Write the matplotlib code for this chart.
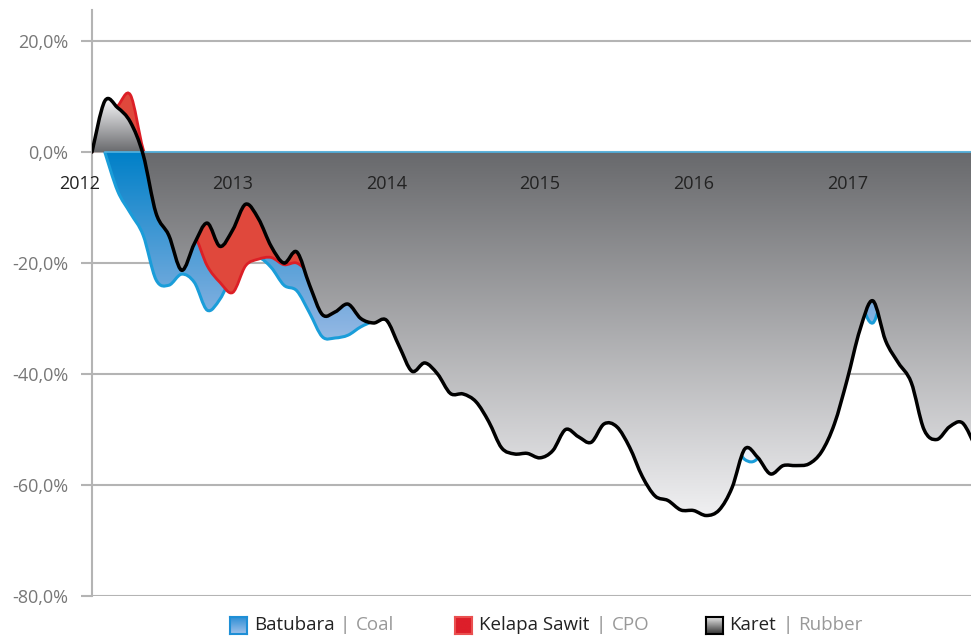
import numpy as np
import matplotlib
matplotlib.use("Agg")
import matplotlib.pyplot as plt
from matplotlib.path import Path
from matplotlib.patches import PathPatch

plt.rcParams['font.family'] = ['Open Sans', 'DejaVu Sans']

# perubahan harga kumulatif sejak Jan 2012 (%), data bulanan
months = np.arange(70)
rubber = [0, 9.2, 8.0, 5.4, -0.5, -11, -15, -21.3, -16.5, -12.8,
          -17, -14, -9.4, -12, -17, -20, -18, -24, -29.3, -28.8,
          -27.4, -30, -30.8, -30.3, -35, -39.5, -38, -40, -43.5, -43.6,
          -45, -48.6, -53.3, -54.4, -54.3, -55.1, -53.8, -50, -51.3, -52.3,
          -49, -49.5, -53.2, -58.5, -62, -62.8, -64.5, -64.6, -65.5, -64.5,
          -60.5, -53.5, -55, -58, -56.5, -56.5, -56.2, -54, -49, -41,
          -32, -26.8, -34, -38, -41.5, -50, -51.8, -49.5, -48.8, -53]
coal_months = np.arange(1, 70)
coal = [0, -7, -11, -15, -23, -24, -22, -23.5, -28.5,
        -26.5, -22, -20, -19, -20.8, -24, -25, -29, -33.3, -33.5,
        -33, -31.5, -30.5, -30, -31, -33, -35, -36, -37, -40,
        -42, -44, -46, -47, -48, -49, -47, -45, -46, -48,
        -48, -47, -49, -51, -52, -53, -54, -53, -52, -51,
        -52, -55.4, -55.2, -50, -45, -40, -30, -18, -10, -15,
        -26, -30.8, -24, -22, -20, -18, -20, -22, -24, -25]
cpo = [0, 6, 8.3, 10.3, 0.5, -5, -10, -14, -15, -20.5,
       -23.5, -25.3, -20.5, -19.3, -19, -20.3, -20, -22, -25, -26,
       -26, -27, -28, -27, -28, -30, -31, -33, -35, -36,
       -37, -38, -37, -36, -35, -36, -35, -34, -33, -34,
       -35, -36, -37, -38, -36, -35, -34, -33, -30, -28,
       -27, -25, -24, -22, -20, -19, -20, -18, -17, -16,
       -14, -18, -22, -26, -28, -30, -31, -30, -32, -33]

years = ['2012', '2013', '2014', '2015', '2016', '2017']
yticks = [20, 0, -20, -40, -60, -80]
ytick_labels = ['20,0%', '0,0%', '-20,0%', '-40,0%', '-60,0%', '-80,0%']

W, H = 971, 636
fig = plt.figure(figsize=(W / 100, H / 100), dpi=100)
ax = fig.add_axes([92 / W, 40 / H, 879 / W, 586 / H])
XMAX = 879 / 12.8
YMIN, YMAX = -80, 25.6

GRID = '#b4b4b4'


def c(h):
    return np.array(matplotlib.colors.to_rgb(h))


def spline(x, y, area=False):
    # kurva halus (spline) lewat titik data
    p = np.column_stack([x, y]).astype(float)
    n = len(p)
    verts, codes = [], []
    if area:
        verts += [(p[0, 0], 0), tuple(p[0])]
        codes += [Path.MOVETO, Path.LINETO]
    else:
        verts.append(tuple(p[0]))
        codes.append(Path.MOVETO)
    for i in range(n - 1):
        a = p[max(i - 1, 0)]
        b = p[i]
        d = p[i + 1]
        e = p[min(i + 2, n - 1)]
        c1 = b + (d - a) / 6.0
        c2 = d - (e - b) / 6.0
        verts += [tuple(c1), tuple(c2), tuple(d)]
        codes += [Path.CURVE4] * 3
    if area:
        verts += [(p[-1, 0], 0), (p[0, 0], 0)]
        codes += [Path.LINETO, Path.CLOSEPOLY]
    return Path(verts, codes)


def lerp(stops, t):
    t = min(max(t, 0), 1)
    for (t0, c0), (t1, c1) in zip(stops[:-1], stops[1:]):
        if t <= t1:
            f = (t - t0) / (t1 - t0) if t1 > t0 else 0
            return c(c0) * (1 - f) + c(c1) * f
    return c(stops[-1][1])


def gradient(clip, colfunc, z):
    ys = np.linspace(YMIN, YMAX, 600)
    img = np.array([colfunc(v) for v in ys]).reshape(600, 1, 3)
    im = ax.imshow(img, origin='lower', extent=(0, XMAX, YMIN, YMAX),
                   aspect='auto', interpolation='bilinear', zorder=z)
    im.set_clip_path(clip)


def line(x, y, **kw):
    ax.add_patch(PathPatch(spline(x, y), fc='none', joinstyle='round',
                           capstyle='round', **kw))


# Batubara | Coal
blue_stops = [(0, '#0080c8'), (0.55, '#87b2e1'), (1, '#eef2fa')]
cmin = min(coal)
p = PathPatch(spline(coal_months, coal, area=True), fc='none', ec='none')
ax.add_patch(p)
gradient(p, lambda v: lerp(blue_stops, v / cmin), 2)
line(coal_months, coal, ec='#1a9dd9', lw=2.2, zorder=2.1)

# Kelapa Sawit | CPO
ax.add_patch(PathPatch(spline(months, cpo, area=True), fc='#e0483c', ec='none', zorder=3))
line(months, cpo, ec='#dc1f26', lw=2.0, zorder=3.1)

# Karet | Rubber
gray_stops = [(0, '#68696c'), (1, '#f0f0f2')]
rmin, rmax = min(rubber), max(rubber)
p = PathPatch(spline(months, rubber, area=True), fc='none', ec='none')
ax.add_patch(p)
gradient(p, lambda v: lerp(gray_stops, v / rmin if v < 0 else v / rmax), 4)
ax.plot([coal_months[0], XMAX], [0, 0], color='#4fb3e3', lw=1.2, zorder=4.5)
line(months, rubber, ec='black', lw=2.5, zorder=5)

# sumbu
ax.set_xlim(0, XMAX)
ax.set_ylim(YMIN, YMAX)
for yv in yticks:
    ax.axhline(yv, color=GRID, lw=1.5, zorder=0.5)
ax.set_yticks(yticks)
ax.set_yticklabels(ytick_labels)
ax.tick_params(axis='y', length=8, width=1.5, color=GRID, pad=9,
               labelsize=13, labelcolor='#777777')
ax.set_xticks([])
for s in ['top', 'right', 'bottom']:
    ax.spines[s].set_visible(False)
ax.spines['left'].set_color(GRID)
ax.spines['left'].set_linewidth(1.5)
ax.spines['left'].set_zorder(0.6)

for i, yr in enumerate(years):
    ax.text(12 * i - 1.0, -5.8, yr, ha='center', va='center', fontsize=13,
            color='#222222', clip_on=False, zorder=6)

# legenda
leg = [(230, 254, 345, 356, 'Batubara', 'Coal', ['#2f8fd6', '#a0c2ea'], '#1e8fd6'),
       (455, 479, 601, 612, 'Kelapa Sawit', 'CPO', ['#dd1f2a', '#dd1f2a'], '#ea5050'),
       (706, 729, 788, 798, 'Karet', 'Rubber', ['#e6e6e6', '#333333'], '#000000')]
ly = (H - 625) / H
for x0, tx, bx, sx, name, en, cols, ec in leg:
    iax = fig.add_axes([x0 / W, (H - 634) / H, 17 / W, 17 / H])
    g = np.array([lerp([(0, cols[0]), (1, cols[1])], t)
                  for t in np.linspace(0, 1, 50)]).reshape(50, 1, 3)
    iax.imshow(g, aspect='auto', extent=(0, 1, 0, 1))
    iax.set_xticks([])
    iax.set_yticks([])
    for s in iax.spines.values():
        s.set_color(ec)
        s.set_linewidth(1.5)
    fig.text(tx / W, ly, name, ha='left', va='center', fontsize=13.5, color='#222222')
    fig.text(bx / W, ly, '|', ha='center', va='center', fontsize=13.5, color='#888888')
    fig.text(sx / W, ly, en, ha='left', va='center', fontsize=13.5, color='#999999')

fig.savefig('out.png', dpi=100)
